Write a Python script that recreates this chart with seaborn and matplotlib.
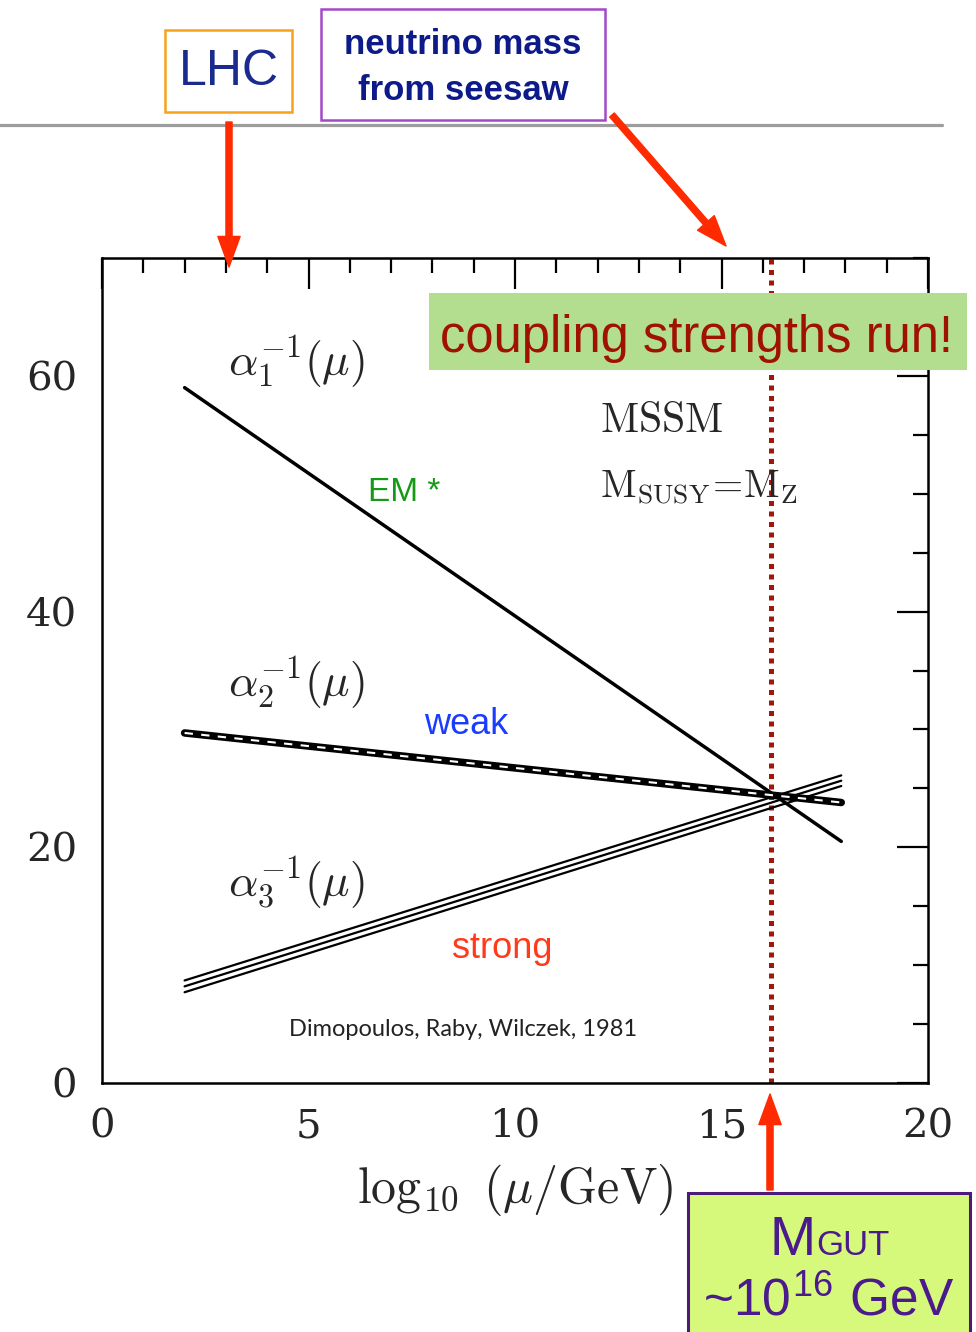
import matplotlib
matplotlib.use("Agg")
import matplotlib.pyplot as plt
import seaborn as sns
from matplotlib.patches import Rectangle, FancyArrowPatch
from matplotlib.lines import Line2D
from matplotlib.ticker import MultipleLocator

# One-loop running of the inverse gauge couplings (MSSM, M_SUSY = M_Z)
log_mu = [2.0, 17.9]
alpha1_inv = [59.0, 20.5]
alpha2_inv = [29.7, 23.8]
alpha3_inv_low = [7.7, 25.2]
alpha3_inv_mid = [8.2, 25.65]
alpha3_inv_high = [8.7, 26.1]
log_mgut = 16.2

x_ticks = [0, 5, 10, 15, 20]
y_ticks = [0, 20, 40, 60]

W, H = 976, 1332

sns.set_style("white")
plt.rcParams["font.family"] = ["Liberation Sans", "DejaVu Sans"]
plt.rcParams["mathtext.fontset"] = "cm"

fig = plt.figure(figsize=(W / 100, H / 100), dpi=100)


def fx(px):
    return px / W


def fy(py):
    return 1 - py / H


ax = fig.add_axes([fx(102), fy(1083), fx(928) - fx(102), fy(258) - fy(1083)])

# GUT scale marker
ax.axvline(log_mgut, color="#a3170b", lw=3.6, ls=(0, (1, 1.1)),
           dash_capstyle="butt", zorder=1)

# alpha_1^-1
sns.lineplot(x=log_mu, y=alpha1_inv, ax=ax, color="black", lw=2.5,
             estimator=None, sort=False, zorder=3)
# alpha_2^-1 drawn as a double line with a broken white core
sns.lineplot(x=log_mu, y=alpha2_inv, ax=ax, color="black", lw=5.4,
             estimator=None, sort=False, zorder=3)
sns.lineplot(x=log_mu, y=alpha2_inv, ax=ax, color="white", lw=1.5,
             linestyle=(0, (4, 4)), estimator=None, sort=False, zorder=4)
# alpha_3^-1 band: three thin lines
for band in (alpha3_inv_low, alpha3_inv_mid, alpha3_inv_high):
    sns.lineplot(x=log_mu, y=band, ax=ax, color="black", lw=1.6,
                 estimator=None, sort=False, zorder=3)

ax.set_xlim(0, 20)
ax.set_ylim(0, 70)
ax.set_xticks(x_ticks)
ax.set_yticks(y_ticks)
ax.xaxis.set_minor_locator(MultipleLocator(1))
ax.yaxis.set_minor_locator(MultipleLocator(5))
ax.tick_params(which="both", direction="in", top=True, right=True,
               color="black", width=1.6)
ax.tick_params(which="major", length=22, pad=18, labelsize=29,
               labelfontfamily="DejaVu Serif")
ax.tick_params(which="minor", length=11)
for s in ax.spines.values():
    s.set_color("black")
    s.set_linewidth(1.8)

ax.set_xlabel(r"$\log_{10}\ (\mu/\mathrm{GeV})$", fontsize=36, labelpad=12)
ax.set_ylabel("")

# curve labels
ax.text(3.05, 61.2, r"$\alpha_1^{-1}(\mu)$", fontsize=33, va="center", ha="left")
ax.text(3.05, 34.0, r"$\alpha_2^{-1}(\mu)$", fontsize=33, va="center", ha="left")
ax.text(3.05, 17.0, r"$\alpha_3^{-1}(\mu)$", fontsize=33, va="center", ha="left")
ax.text(12.05, 56.2, r"$\mathrm{MSSM}$", fontsize=30, va="center", ha="left")
ax.text(12.05, 50.5, r"$\mathrm{M_{SUSY}\!=\!M_Z}$", fontsize=28,
        va="center", ha="left")

ax.text(6.44, 50.1, "EM *", fontsize=24, color="#159a15", va="center", ha="left")
ax.text(7.8, 30.4, "weak", fontsize=26, color="#1a3cff", va="center", ha="left")
ax.text(8.47, 11.45, "strong", fontsize=26, color="#ff3a1a", va="center", ha="left")
ax.text(4.53, 4.5, "Dimopoulos, Raby, Wilczek, 1981", fontsize=17,
        family=["Lato", "DejaVu Sans"], color="#222222", va="center", ha="left")


def box(x0, y0, x1, y1, face, edge=None, lw=0, z=4):
    fig.add_artist(Rectangle((fx(x0), fy(y1)), fx(x1) - fx(x0), fy(y0) - fy(y1),
                             transform=fig.transFigure, facecolor=face,
                             edgecolor=edge if edge else "none", lw=lw,
                             zorder=z, clip_on=False))


def arrow(p0, p1):
    fig.add_artist(FancyArrowPatch(
        (fx(p0[0]), fy(p0[1])), (fx(p1[0]), fy(p1[1])),
        transform=fig.transFigure,
        arrowstyle="simple,head_length=1.1,head_width=0.8,tail_width=0.22",
        mutation_scale=20, color="#ff2a00", shrinkA=0, shrinkB=0, zorder=6))


def ftext(px, py, s, **kw):
    fig.text(fx(px), fy(py), s, zorder=7, **kw)


# separator line
fig.add_artist(Line2D([fx(0), fx(942)], [fy(125), fy(125)],
                      transform=fig.transFigure, color="#9d9d9d", lw=2.3, zorder=2))

# LHC call-out
box(165, 30, 292, 112, "white", "#f7a21b", 1.8)
ftext(229, 72, "LHC", fontsize=36, color="#1b2a8f", ha="center", va="center")
arrow((229, 122), (229, 267))

# neutrino mass call-out
box(321, 9, 605, 120, "white", "#a349c8", 1.8)
ftext(463, 45, "neutrino mass", fontsize=25, fontweight="bold",
      color="#0d1a8a", ha="center", va="center")
ftext(463, 90, "from seesaw", fontsize=25, fontweight="bold",
      color="#0d1a8a", ha="center", va="center")
arrow((612, 115), (726, 246))

# banner
box(429, 293, 967, 370, "#b3de8f")
ftext(697, 352, "coupling strengths run!", fontsize=36.5, color="#a01200",
      ha="center", va="baseline")

# GUT scale call-out
box(688, 1193, 970, 1345, "#d7f97b", "#4d1a7a", 2.2)
arrow((770, 1190), (770, 1094))
ftext(816, 1255, "M", fontsize=40, color="#4b1a8c", ha="right", va="baseline")
ftext(816, 1255, "GUT", fontsize=25, color="#4b1a8c", ha="left", va="baseline")
ftext(829, 1315, r"~10$^{\mathregular{16}}$ GeV", fontsize=37, color="#4b1a8c",
      ha="center", va="baseline")

fig.savefig("out.png", dpi=100)
